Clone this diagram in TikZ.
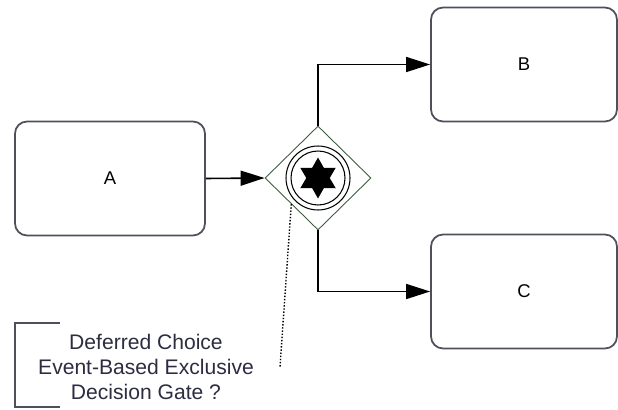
\documentclass[tikz,border=0pt]{standalone}
\usepackage{fontspec}
\setmainfont{Liberation Sans}
\usepackage{xcolor}
\usepackage{tikz}
\usetikzlibrary{shapes.geometric}
\usetikzlibrary{arrows.meta}
\usetikzlibrary{positioning}

\definecolor{boxline}{RGB}{80,80,92}
\definecolor{gateline}{RGB}{60,90,60}
\definecolor{notetext}{RGB}{45,45,65}

\tikzset{
  task/.style={draw=boxline, line width=1pt, rounded corners=0.24cm,
    minimum width=3.8cm, minimum height=2.28cm, font=\fontsize{10.5}{12}\selectfont},
  flow/.style={line width=0.9pt, -{Triangle[length=0.48cm,width=0.3cm]}},
}

\begin{document}
\begin{tikzpicture}[x=0.02cm, y=-0.02cm]
  \useasboundingbox (0,0) rectangle (618,409);
  \node[task] (A) at (110,178.5) {A};
  \node[task, minimum width=3.72cm] (B) at (524,64.5) {B};
  \node[task, minimum width=3.72cm] (C) at (524,291.5) {C};

  \node[diamond, draw=gateline, line width=0.5pt, inner sep=0,
    minimum width=2.12cm, minimum height=2.08cm] (gw) at (318,178) {};
  \node[circle, draw, line width=0.6pt, inner sep=0, minimum size=1.28cm] (ringout) at (gw) {};
  \node[circle, draw, line width=0.6pt, inner sep=0, minimum size=1.08cm] (ringin) at (gw) {};
  \node[star, star points=6, star point ratio=1.75, fill, inner sep=0,
    minimum size=0.82cm] (ev) at (gw) {};

  \draw[flow] (A.east) -- (gw.west);
  \draw[flow] (gw.north) |- (B.west);
  \draw[flow] (gw.south) |- (C.west);

  % annotation
  \node[align=center, text=notetext, font=\fontsize{12}{14.2}\selectfont] (note) at (146,367)
    {Deferred Choice\\Event-Based Exclusive\\Decision Gate ?};
  \draw[boxline, line width=0.9pt] (60,323) -- (15,323) -- (15,407) -- (60,407);
  \coordinate (tip) at (280,367);
  \draw[densely dotted, line width=0.8pt] (gw.south west) -- (tip);
\end{tikzpicture}
\end{document}
